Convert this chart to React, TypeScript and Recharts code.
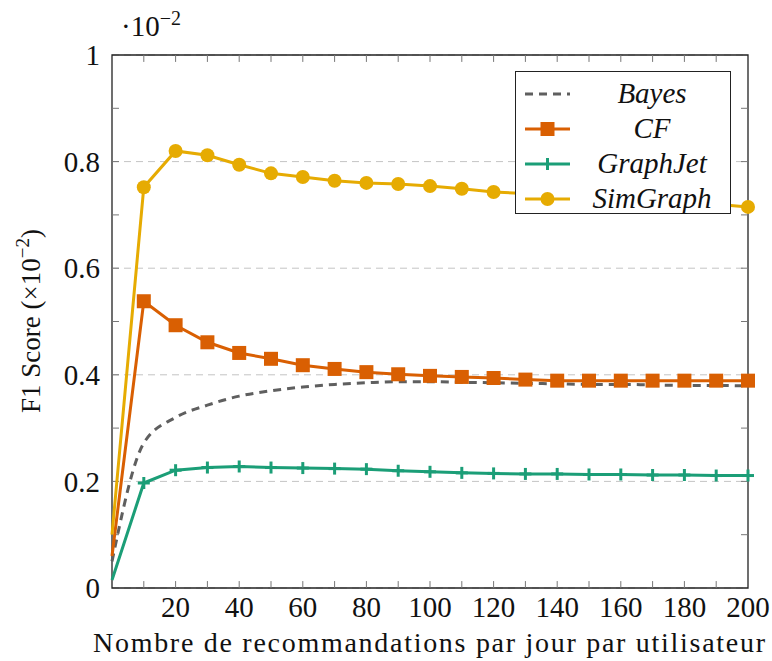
import React from 'react';
import { LineChart, Line, XAxis, YAxis, CartesianGrid, ReferenceLine, ReferenceArea, Label } from 'recharts';

const xValues = [0, 10, 20, 30, 40, 50, 60, 70, 80, 90, 100, 110, 120, 130, 140, 150, 160, 170, 180, 190, 200];
const bayes = [0.05, 0.272, 0.32, 0.343, 0.36, 0.37, 0.377, 0.382, 0.385, 0.387, 0.387, 0.386, 0.385, 0.384, 0.383, 0.382, 0.382, 0.381, 0.380, 0.380, 0.379];
const cf = [0.06, 0.538, 0.493, 0.461, 0.441, 0.430, 0.418, 0.411, 0.405, 0.401, 0.398, 0.396, 0.394, 0.391, 0.389, 0.389, 0.389, 0.389, 0.389, 0.389, 0.389];
const graphJet = [0.015, 0.197, 0.221, 0.226, 0.228, 0.226, 0.225, 0.224, 0.223, 0.220, 0.218, 0.216, 0.215, 0.214, 0.214, 0.213, 0.213, 0.212, 0.212, 0.211, 0.211];
const simGraph = [0.10, 0.752, 0.82, 0.812, 0.794, 0.778, 0.771, 0.764, 0.760, 0.758, 0.754, 0.749, 0.743, 0.740, 0.738, 0.735, 0.731, 0.727, 0.723, 0.720, 0.715];

const seriesNames = ['Bayes', 'CF', 'GraphJet', 'SimGraph'];
const xTickLabels = [20, 40, 60, 80, 100, 120, 140, 160, 180, 200];
const yTickLabels = [0, 0.2, 0.4, 0.6, 0.8, 1];
const xMinorTicks = [10, 20, 30, 40, 50, 60, 70, 80, 90, 100, 110, 120, 130, 140, 150, 160, 170, 180, 190];
const yMinorTicks = [0.1, 0.2, 0.3, 0.4, 0.5, 0.6, 0.7, 0.8, 0.9];

const COLORS = { bayes: '#5f5f5f', cf: '#d95f02', graphJet: '#1b9e77', simGraph: '#e6ab02' };
const FONT = '"Liberation Serif", "DejaVu Serif", serif';
const FS = 29;

const data = xValues.map((x, i) => ({
  x,
  bayes: bayes[i],
  cf: cf[i],
  graphJet: graphJet[i],
  simGraph: simGraph[i],
}));

const SquareDot = (props: any) => {
  const { cx, cy, index } = props;
  if (index === 0 || cx == null) return <g key={`s${index}`} />;
  return <rect key={`s${index}`} x={cx - 7} y={cy - 7} width={14} height={14} fill={COLORS.cf} />;
};
const CircleDot = (props: any) => {
  const { cx, cy, index } = props;
  if (index === 0 || cx == null) return <g key={`c${index}`} />;
  return <circle key={`c${index}`} cx={cx} cy={cy} r={7} fill={COLORS.simGraph} />;
};
const PlusDot = (props: any) => {
  const { cx, cy, index } = props;
  if (index === 0 || cx == null) return <g key={`p${index}`} />;
  return (
    <g key={`p${index}`}>
      <line x1={cx} y1={cy - 6} x2={cx} y2={cy + 6} stroke={COLORS.graphJet} strokeWidth={3} />
      <line x1={cx - 6} y1={cy} x2={cx + 6} y2={cy} stroke={COLORS.graphJet} strokeWidth={3} />
    </g>
  );
};

const fmtY = (v: number) => String(Math.round(v * 10) / 10);

const LegendBox = () => {
  const rows = [
    { name: seriesNames[0], color: COLORS.bayes, kind: 'dash' },
    { name: seriesNames[1], color: COLORS.cf, kind: 'square' },
    { name: seriesNames[2], color: COLORS.graphJet, kind: 'plus' },
    { name: seriesNames[3], color: COLORS.simGraph, kind: 'circle' },
  ];
  return (
    <svg width={216} height={143} style={{ position: 'absolute', left: 515, top: 71 }}>
      <rect x={0.5} y={0.5} width={215} height={142} fill="#fff" stroke="#222" strokeWidth={1} />
      {rows.map((r, i) => {
        const y = 23 + i * 35;
        return (
          <g key={r.name}>
            {r.kind === 'dash' ? (
              <line x1={10} y1={y} x2={55} y2={y} stroke={r.color} strokeWidth={3} strokeDasharray="8 6" />
            ) : (
              <line x1={10} y1={y} x2={55} y2={y} stroke={r.color} strokeWidth={3} />
            )}
            {r.kind === 'square' && <rect x={25.5} y={y - 7} width={14} height={14} fill={r.color} />}
            {r.kind === 'circle' && <circle cx={32.5} cy={y} r={7} fill={r.color} />}
            {r.kind === 'plus' && <line x1={32.5} y1={y - 6} x2={32.5} y2={y + 6} stroke={r.color} strokeWidth={3} />}
            <text x={137} y={y + 9} textAnchor="middle" fontFamily={FONT} fontStyle="italic" fontSize={FS} fill="#111">
              {r.name}
            </text>
          </g>
        );
      })}
    </svg>
  );
};

export default function App() {
  return (
    <div style={{ position: 'absolute', left: 0, top: 0, width: 772, height: 661, background: '#fff' }}>
      <LineChart width={772} height={661} data={data} margin={{ top: 55, right: 24, bottom: 0, left: 0 }}>
        <CartesianGrid horizontal vertical={false} stroke="#c4c4c4" strokeDasharray="7 5" />
        <XAxis
          dataKey="x"
          type="number"
          domain={[0, 200]}
          ticks={xTickLabels}
          height={73}
          axisLine={false}
          tickLine={false}
          tickSize={0}
          tickMargin={8}
          tick={{ fill: '#111', fontFamily: FONT, fontSize: FS }}
        >
          <Label
            content={() => (
              <text x={429} y={652} textAnchor="middle" fontFamily={FONT} fontSize={28} fill="#111" textLength={672} lengthAdjust="spacing">
                Nombre de recommandations par jour par utilisateur
              </text>
            )}
          />
        </XAxis>
        <YAxis
          type="number"
          domain={[0, 1]}
          ticks={yTickLabels}
          width={112}
          axisLine={false}
          tickLine={false}
          tickSize={0}
          tickMargin={12}
          tickFormatter={fmtY}
          tick={{ fill: '#111', fontFamily: FONT, fontSize: FS }}
        >
          <Label
            content={() => (
              <text transform="translate(40,321) rotate(-90)" textAnchor="middle" fontFamily={FONT} fontSize={27} fill="#111">
                F1 Score (×10
                <tspan dy={-11} fontSize={19}>−2</tspan>
                <tspan dy={11}>)</tspan>
              </text>
            )}
          />
        </YAxis>
        {xMinorTicks.map((v) => (
          <ReferenceLine key={`xb${v}`} segment={[{ x: v, y: 0 }, { x: v, y: 0.013 }]} stroke="#777" ifOverflow="visible" />
        ))}
        {xMinorTicks.map((v) => (
          <ReferenceLine key={`xt${v}`} segment={[{ x: v, y: 1 }, { x: v, y: 0.987 }]} stroke="#777" ifOverflow="visible" />
        ))}
        {yMinorTicks.map((v) => (
          <ReferenceLine key={`yl${v}`} segment={[{ x: 0, y: v }, { x: 2.2, y: v }]} stroke="#777" ifOverflow="visible" />
        ))}
        {yMinorTicks.map((v) => (
          <ReferenceLine key={`yr${v}`} segment={[{ x: 200, y: v }, { x: 197.8, y: v }]} stroke="#777" ifOverflow="visible" />
        ))}
        <Line type="monotone" dataKey="bayes" stroke={COLORS.bayes} strokeWidth={3} strokeDasharray="8 6" dot={false} isAnimationActive={false} />
        <Line type="linear" dataKey="cf" stroke={COLORS.cf} strokeWidth={3} dot={SquareDot} isAnimationActive={false} />
        <Line type="linear" dataKey="graphJet" stroke={COLORS.graphJet} strokeWidth={3} dot={PlusDot} isAnimationActive={false} />
        <Line type="linear" dataKey="simGraph" stroke={COLORS.simGraph} strokeWidth={3} dot={CircleDot} isAnimationActive={false} />
        <ReferenceArea x1={0} x2={200} y1={0} y2={1} fill="none" stroke="#222" strokeWidth={1.3} ifOverflow="visible" />
      </LineChart>
      <LegendBox />
      <div style={{ position: 'absolute', left: 121, top: 9, fontFamily: FONT, fontSize: FS, color: '#111', lineHeight: '34px', whiteSpace: 'nowrap' }}>
        ·10<span style={{ fontSize: 20, position: 'relative', top: -11 }}>−2</span>
      </div>
    </div>
  );
}
